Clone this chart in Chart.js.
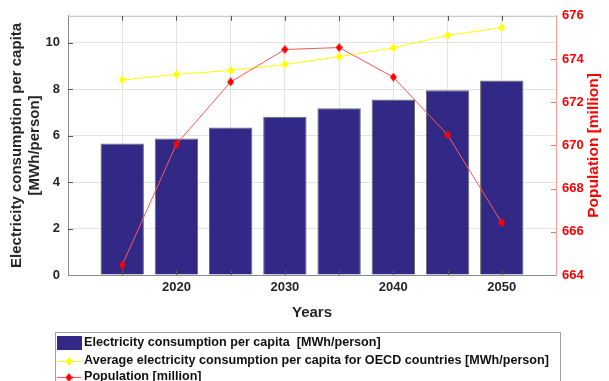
<!DOCTYPE html>
<html><head><meta charset="utf-8">
<script src="https://cdn.jsdelivr.net/npm/chart.js@4/dist/chart.umd.min.js"></script>
<style>html,body{margin:0;padding:0;background:#fff;overflow:hidden}canvas{display:block}</style>
</head><body>
<canvas id="c" width="609" height="381"></canvas>
<script>
// ---- data ----
const years = [2015, 2020, 2025, 2030, 2035, 2040, 2045, 2050];
const consumption = [5.66, 5.87, 6.34, 6.81, 7.17, 7.55, 7.95, 8.37];
const oecdAverage = [8.39, 8.63, 8.80, 9.06, 9.39, 9.77, 10.31, 10.64];
const population = [664.46, 670.06, 672.94, 674.44, 674.53, 673.16, 670.49, 666.42];
const leftTicks = [0, 2, 4, 6, 8, 10];
const rightTicks = [664, 666, 668, 670, 672, 674, 676];
const xLabelYears = [2020, 2030, 2040, 2050];
const labels = {
  bars: 'Electricity consumption per capita  [MWh/person]',
  oecd: 'Average electricity consumption per capita for OECD countries [MWh/person]',
  pop: 'Population [million]',
  yLeft: ['Electricity consumption per capita', '[MWh/person]'],
  yRight: 'Population [million]',
  x: 'Years'
};

const FONT = "'Liberation Sans', Arial, Helvetica, sans-serif";
const TXT = '#262626';
const BAR = 'rgba(28,18,122,0.9)';
const YEL = '#ffff00';
const RED_LINE = '#ff5555';
const RED = '#ff0000';

function diamond(color, w, h) {
  const c = document.createElement('canvas'); c.width = w; c.height = h;
  const g = c.getContext('2d'); g.fillStyle = color;
  g.beginPath(); g.moveTo(w / 2, 0); g.lineTo(w, h / 2); g.lineTo(w / 2, h); g.lineTo(0, h / 2); g.closePath(); g.fill();
  return c;
}
const yDia = diamond(YEL, 7, 9);
const rDia = diamond(RED, 7, 9);

const deco = {
  id: 'deco',
  afterDraw(chart) {
    const { ctx, chartArea: a, scales } = chart;
    ctx.save();
    // top box line
    ctx.strokeStyle = '#bdbdbd'; ctx.lineWidth = 1;
    ctx.beginPath(); ctx.moveTo(a.left, a.top + 0.5); ctx.lineTo(a.right, a.top + 0.5); ctx.stroke();
    // inner tick marks
    const TL = 5;
    ctx.strokeStyle = '#555'; ctx.beginPath();
    scales.x.ticks.forEach(t => {
      if (t.value <= scales.x.min || t.value >= scales.x.max) return;
      const px = Math.round(scales.x.getPixelForValue(t.value)) + 0.5;
      ctx.moveTo(px, a.bottom); ctx.lineTo(px, a.bottom - TL);
      ctx.moveTo(px, a.top); ctx.lineTo(px, a.top + TL);
    });
    scales.y.ticks.forEach(t => {
      if (t.value <= scales.y.min) return;
      const py = Math.round(scales.y.getPixelForValue(t.value)) + 0.5;
      ctx.moveTo(a.left, py); ctx.lineTo(a.left + TL, py);
    });
    ctx.stroke();
    ctx.strokeStyle = '#ff6a6a'; ctx.beginPath();
    scales.y1.ticks.forEach(t => {
      if (t.value <= scales.y1.min || t.value >= scales.y1.max) return;
      const py = Math.round(scales.y1.getPixelForValue(t.value)) + 0.5;
      ctx.moveTo(a.right, py); ctx.lineTo(a.right - TL, py);
    });
    ctx.stroke();
    // titles
    const midY = (a.top + a.bottom) / 2;
    ctx.font = 'bold 15px ' + FONT; ctx.fillStyle = TXT;
    ctx.textAlign = 'center'; ctx.textBaseline = 'middle';
    ctx.save(); ctx.translate(17, midY); ctx.rotate(-Math.PI / 2);
    ctx.fillText(labels.yLeft[0], 0, 0);
    ctx.fillText(labels.yLeft[1], 0, 18);
    ctx.restore();
    ctx.save(); ctx.translate(594, midY); ctx.rotate(-Math.PI / 2);
    ctx.fillStyle = RED; ctx.font = 'bold 15.5px ' + FONT; ctx.fillText(labels.yRight, 0, 0);
    ctx.restore();
    ctx.fillText(labels.x, (a.left + a.right) / 2, 313);
    // legend
    ctx.fillStyle = '#fff'; ctx.fillRect(55, 332, 505, 60);
    ctx.strokeStyle = '#a0a0a0'; ctx.strokeRect(55.5, 332.5, 505, 60);
    ctx.font = 'bold 12.6px ' + FONT; ctx.textAlign = 'left'; ctx.textBaseline = 'middle';
    const rows = [343, 361, 377];
    // bar swatch
    ctx.fillStyle = BAR; ctx.fillRect(57, 336, 25, 14);
    ctx.fillStyle = '#111'; ctx.fillText(chart.data.datasets[0].label, 84, rows[0]);
    // yellow
    ctx.strokeStyle = YEL; ctx.beginPath(); ctx.moveTo(57, rows[1] + 0.5); ctx.lineTo(81, rows[1] + 0.5); ctx.stroke();
    ctx.drawImage(yDia, 69 - 3.5, rows[1] - 4);
    ctx.fillStyle = '#111'; ctx.fillText(chart.data.datasets[1].label, 84, rows[1]);
    // red
    ctx.strokeStyle = RED_LINE; ctx.beginPath(); ctx.moveTo(57, rows[2] + 0.5); ctx.lineTo(81, rows[2] + 0.5); ctx.stroke();
    ctx.drawImage(rDia, 69 - 3.5, rows[2] - 4);
    ctx.fillStyle = '#111'; ctx.fillText(chart.data.datasets[2].label, 84, rows[2]);
    ctx.restore();
  }
};

new Chart(document.getElementById('c'), {
  type: 'bar',
  data: {
    datasets: [
      {
        type: 'bar', label: labels.bars, order: 3, yAxisID: 'y',
        data: years.map((x, i) => ({ x, y: consumption[i] })),
        backgroundColor: BAR, borderColor: '#6a6a6a', borderWidth: 1,
        categoryPercentage: 1, barPercentage: 0.8
      },
      {
        type: 'line', label: labels.oecd, order: 2, yAxisID: 'y',
        data: years.map((x, i) => ({ x, y: oecdAverage[i] })),
        borderColor: YEL, borderWidth: 1, pointStyle: yDia, pointRadius: 4, tension: 0
      },
      {
        type: 'line', label: labels.pop, order: 1, yAxisID: 'y1',
        data: years.map((x, i) => ({ x, y: population[i] })),
        borderColor: RED_LINE, borderWidth: 1, pointStyle: rDia, pointRadius: 4, tension: 0
      }
    ]
  },
  options: {
    responsive: false, animation: false,
    layout: { padding: { top: 14, left: 0, right: 0, bottom: 0 } },
    plugins: { legend: { display: false }, tooltip: { enabled: false } },
    scales: {
      x: {
        type: 'linear', min: 2010, max: 2055, offset: false,
        afterFit: s => { s.height = 106; },
        ticks: {
          stepSize: 5, padding: 5, color: TXT, font: { family: FONT, size: 13, weight: 'bold' },
          maxRotation: 0, autoSkip: false,
          callback: v => xLabelYears.includes(v) ? String(v) : ''
        },
        grid: { color: '#e3e3e3', drawTicks: false, offset: false },
        border: { color: '#8a8a8a' }
      },
      y: {
        position: 'left', min: 0, max: 11.15,
        afterFit: s => { s.width = 68; },
        afterBuildTicks: s => { s.ticks = leftTicks.map(v => ({ value: v })); },
        ticks: { padding: 8, color: TXT, font: { family: FONT, size: 13, weight: 'bold' } },
        grid: { color: '#e3e3e3', drawTicks: false },
        border: { color: '#8a8a8a' }
      },
      y1: {
        position: 'right', min: 664, max: 676,
        afterFit: s => { s.width = 53; },
        afterBuildTicks: s => { s.ticks = rightTicks.map(v => ({ value: v })); },
        ticks: { padding: 6, color: RED, font: { family: FONT, size: 13, weight: 'bold' } },
        grid: { display: false, drawTicks: false },
        border: { color: '#ff9a9a' }
      }
    }
  },
  plugins: [deco]
});
</script>
</body></html>
